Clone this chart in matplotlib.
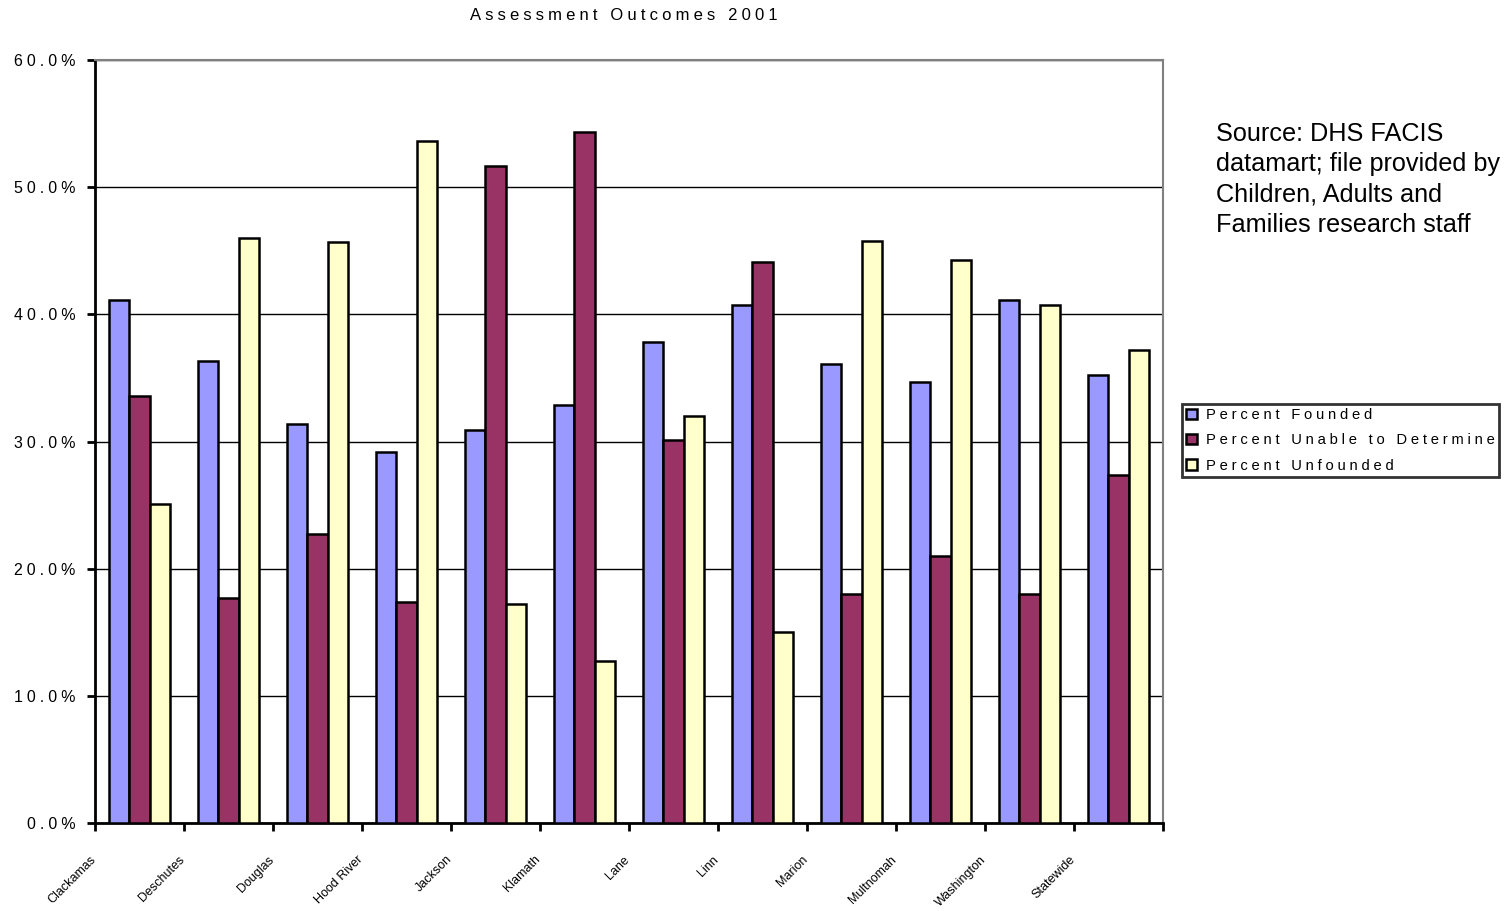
import matplotlib
matplotlib.use('Agg')
import matplotlib.pyplot as plt
from matplotlib import font_manager as fm
import numpy as np

counties = ['Clackamas', 'Deschutes', 'Douglas', 'Hood River', 'Jackson', 'Klamath',
            'Lane', 'Linn', 'Marion', 'Multnomah', 'Washington', 'Statewide']
founded = [41.1, 36.3, 31.4, 29.2, 30.9, 32.9, 37.8, 40.7, 36.1, 34.7, 41.1, 35.2]
unable = [33.6, 17.7, 22.7, 17.4, 51.7, 54.3, 30.1, 44.1, 18.0, 21.0, 18.0, 27.4]
unfounded = [25.1, 46.0, 45.7, 53.6, 17.2, 12.7, 32.0, 15.0, 45.8, 44.3, 40.7, 37.2]
series_names = ['Percent Founded', 'Percent Unable to Determine', 'Percent Unfounded']
colors = ['#9999FF', '#993366', '#FFFFCC']
yticks = [0, 10, 20, 30, 40, 50, 60]


def spaced(s):
    # fake the wide letter spacing of the original
    return '\u2005'.join(s)


# look for a narrow font for the squashed county names
label_font = dict(family=['Liberation Sans', 'DejaVu Sans'], fontsize=9)
for fam in ['Liberation Sans Narrow', 'Arial Narrow']:
    try:
        fm.findfont(fm.FontProperties(family=fam), fallback_to_default=False)
        label_font = dict(family=[fam, 'DejaVu Sans'], fontsize=11)
        break
    except ValueError:
        pass

plt.rcParams['font.family'] = ['Liberation Sans', 'DejaVu Sans']

fig = plt.figure(figsize=(15.07, 9.11), dpi=100)
ax = fig.add_axes([95 / 1507, 1 - 823 / 911, (1163 - 95) / 1507, (823 - 60) / 911])

x = np.arange(len(counties))
w = 0.225
for i, (vals, name, c) in enumerate(zip([founded, unable, unfounded], series_names, colors)):
    ax.bar(x + (i - 1) * w, vals, w, color=c, edgecolor='black', linewidth=1.8,
           label=spaced(name), zorder=3)

ax.set_xlim(-0.5, len(counties) - 0.5)
ax.set_ylim(0, 60)
ax.set_yticks(yticks)
ax.set_yticklabels([spaced('%.1f%%' % v) for v in yticks], fontsize=11.5)
ax.yaxis.grid(True, color='black', linewidth=1, zorder=0)

ax.set_xticks(np.arange(len(counties) + 1) - 0.5)
ax.set_xticklabels([])
for i, name in enumerate(counties):
    ax.text(i - 0.56, -0.04, name, transform=ax.get_xaxis_transform(),
            rotation=45, ha='right', va='top', rotation_mode='anchor', **label_font)

ax.tick_params(axis='both', direction='out', length=6, width=2, color='black')
ax.tick_params(axis='y', pad=8)
for side in ['left', 'bottom']:
    ax.spines[side].set_color('black')
    ax.spines[side].set_linewidth(2)
for side in ['top', 'right']:
    ax.spines[side].set_color('#808080')
    ax.spines[side].set_linewidth(1.5)

fig.text(624 / 1507, 1 - 16 / 911, spaced('Assessment Outcomes 2001'), ha='center', va='center',
         fontsize=12)

fig.text(1216 / 1507, 1 - 122 / 911,
         'Source: DHS FACIS\ndatamart; file provided by\nChildren, Adults and\nFamilies research staff',
         ha='left', va='top', fontsize=18.2, linespacing=1.33)

leg = ax.legend(loc='upper left', bbox_to_anchor=(1182 / 1507, 1 - 404 / 911),
                bbox_transform=fig.transFigure, frameon=True, fancybox=False,
                fontsize=10.6, handlelength=0.7, handleheight=0.7, handletextpad=0.6,
                borderpad=0.3, labelspacing=0.75, borderaxespad=0)
leg.get_frame().set_edgecolor('black')
leg.get_frame().set_linewidth(2)

fig.savefig('out.png', dpi=100)
